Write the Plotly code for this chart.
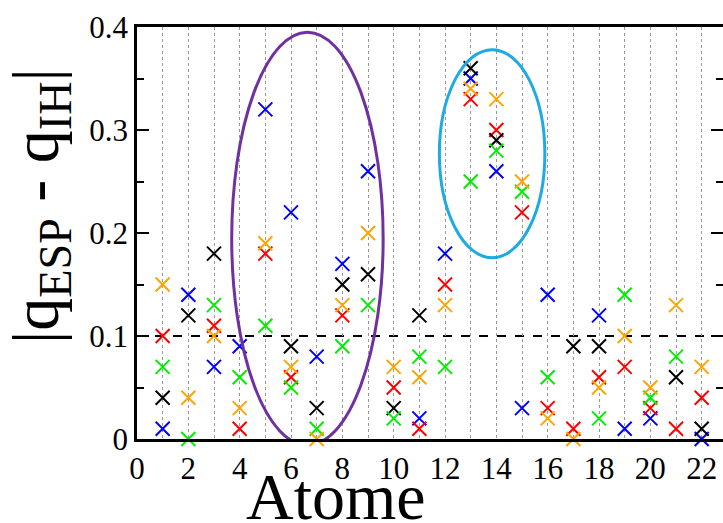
import plotly.graph_objects as go

atoms = list(range(1, 23))
black = [0.04, 0.12, 0.18, None, None, 0.09, 0.03, 0.15, 0.16, 0.03, 0.12, None,
         0.36, 0.29, None, None, 0.09, 0.09, None, None, 0.06, 0.01]
red = [0.10, None, 0.11, 0.01, 0.18, 0.06, None, 0.12, None, 0.05, 0.01, 0.15,
       0.33, 0.30, 0.22, 0.03, 0.01, 0.06, 0.07, 0.03, 0.01, 0.04]
green = [0.07, 0.00, 0.13, 0.06, 0.11, 0.05, 0.01, 0.09, 0.13, 0.02, 0.08, 0.07,
         0.25, 0.28, 0.24, 0.06, None, 0.02, 0.14, 0.04, 0.08, None]
blue = [0.01, 0.14, 0.07, 0.09, 0.32, 0.22, 0.08, 0.17, 0.26, None, 0.02, 0.18,
        0.35, 0.26, 0.03, 0.14, None, 0.12, 0.01, 0.02, None, 0.00]
orange = [0.15, 0.04, 0.10, 0.03, 0.19, 0.07, 0.00, 0.13, 0.20, 0.07, 0.06, 0.13,
          0.34, 0.33, 0.25, 0.02, 0.00, 0.05, 0.10, 0.05, 0.13, 0.07]

series = [("blue", blue, "#0000FF"), ("red", red, "#FF0000"), ("black", black, "#000000"),
          ("green", green, "#00EE00"), ("orange", orange, "#FFA500")]

x_ticks = list(range(0, 23, 2))
y_ticks = [0, 0.1, 0.2, 0.3, 0.4]
y_ticktext = ["0", "0.1", "0.2", "0.3", "0.4"]
threshold = 0.1

# highlight ellipses (x0, y0, x1, y1)
ellipse_purple = (3.69, -0.006, 9.59, 0.395)
ellipse_cyan = (11.78, 0.176, 15.89, 0.378)

FONT = "Liberation Serif, Times New Roman, Times, serif"

fig = go.Figure()
for name, vals, col in series:
    fig.add_trace(go.Scatter(
        x=atoms, y=vals, mode="markers", name=name,
        marker=dict(symbol="x-thin", size=14, line=dict(width=2, color=col), color=col),
        cliponaxis=False, showlegend=False))

fig.add_shape(type="line", xref="paper", x0=0, x1=1, yref="y", y0=threshold, y1=threshold,
              line=dict(color="black", width=2, dash="dash"), layer="between")
for (x0, y0, x1, y1), col in [(ellipse_purple, "#7030A0"), (ellipse_cyan, "#1EAAE2")]:
    fig.add_shape(type="circle", xref="x", yref="y", x0=x0, y0=y0, x1=x1, y1=y1,
                  line=dict(color=col, width=3), layer="above")

fig.update_xaxes(range=[0, 22.83], tickvals=x_ticks, ticks="", showline=True, linecolor="black",
                 linewidth=2.5, mirror=True, showgrid=True, gridcolor="#999999", griddash="dot",
                 gridwidth=1, zeroline=False,
                 minor=dict(dtick=1, tick0=0, showgrid=True, gridcolor="#999999", griddash="dot", gridwidth=1),
                 tickfont=dict(family=FONT, size=31, color="black"))
fig.update_yaxes(range=[0, 0.4], tickvals=y_ticks, ticktext=y_ticktext, ticks="inside", ticklen=12,
                 tickwidth=2, tickcolor="black", showline=True, linecolor="black", linewidth=2.5,
                 mirror="allticks", showgrid=False, zeroline=False,
                 minor=dict(dtick=0.05, tick0=0, ticks="inside", ticklen=7, tickwidth=2, tickcolor="black"),
                 tickfont=dict(family=FONT, size=31, color="black"))

fig.add_annotation(text="|q<sub>ESP</sub> - q<sub>IH</sub>|", textangle=-90, xref="paper", yref="paper",
                   x=-0.166, y=0.565, xanchor="center", yanchor="middle", showarrow=False,
                   font=dict(family=FONT, size=66, color="black"))
fig.add_annotation(text="Atome", xref="paper", yref="paper", x=0.34, y=-0.14,
                   xanchor="center", yanchor="middle", showarrow=False,
                   font=dict(family=FONT, size=66, color="black"))

fig.update_layout(width=723, height=523, margin=dict(l=137, r=0, t=27, b=84, autoexpand=False),
                  plot_bgcolor="white", paper_bgcolor="white", font=dict(family=FONT))
fig.write_html("out.html", config={"displayModeBar": False},
               post_script="document.body.style.margin='0';")
